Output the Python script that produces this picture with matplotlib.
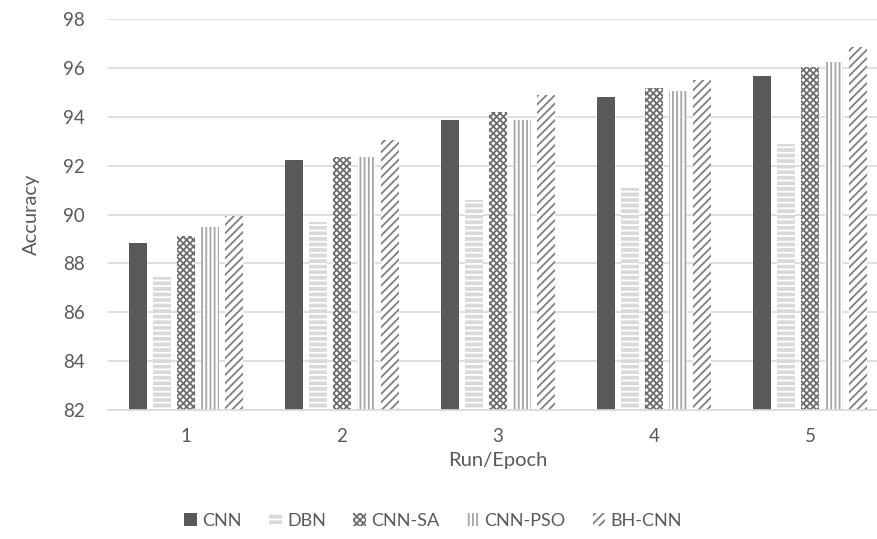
import numpy as np
import matplotlib
matplotlib.use("Agg")
import matplotlib.pyplot as plt

runs = ["1", "2", "3", "4", "5"]
methods = ["CNN", "DBN", "CNN-SA", "CNN-PSO", "BH-CNN"]
cnn = [88.82, 92.22, 93.88, 94.80, 95.65]
dbn = [87.43, 89.68, 90.60, 91.10, 92.90]
cnn_sa = [89.14, 92.35, 94.18, 95.16, 96.02]
cnn_pso = [89.50, 92.35, 93.88, 95.06, 96.26]
bh_cnn = [89.92, 93.05, 94.88, 95.52, 96.86]
values = [cnn, dbn, cnn_sa, cnn_pso, bh_cnn]

# face, hatch colour, hatch
styles = [
    ("#595959", "#595959", None),
    ("#d9d9d9", "white", "---"),
    ("white", "#6e6e6e", "xxxxx"),
    ("white", "#a6a6a6", "||||"),
    ("white", "#808080", "////"),
]

plt.rcParams["font.family"] = ["Lato", "DejaVu Sans"]
plt.rcParams["hatch.linewidth"] = 1.3

fig = plt.figure(figsize=(8.77, 5.39), dpi=100)
ax = fig.add_axes([108 / 877, 129 / 539, 780 / 877, 391 / 539])

x = np.arange(len(runs))
step = 0.154
width = 0.12
for i, (name, vals) in enumerate(zip(methods, values)):
    face, hcol, hatch = styles[i]
    ax.bar(x + (i - 2) * step, np.array(vals) - 82, width, bottom=82,
           color=face, edgecolor=hcol, linewidth=0, hatch=hatch,
           label=name, zorder=2)

ax.set_xlim(-0.5, 4.5)
ax.set_ylim(82, 98)
ax.set_yticks(np.arange(82, 99, 2))
ax.set_xticks(x)
ax.set_xticklabels(runs)
ax.grid(axis="y", color="#d9d9d9", linewidth=1.2, zorder=0)
ax.set_axisbelow(True)
for s in ["top", "right", "left"]:
    ax.spines[s].set_visible(False)
ax.spines["bottom"].set_color("#d9d9d9")
ax.spines["bottom"].set_linewidth(1.2)
ax.tick_params(length=0, labelsize=13.5, colors="#595959")
ax.tick_params(axis="y", pad=17)
ax.tick_params(axis="x", pad=13)
ax.set_ylabel("Accuracy", fontsize=14.5, color="#595959", labelpad=16)
ax.set_xlabel("Run/Epoch", fontsize=14.5, color="#595959", labelpad=5)

fig.legend(loc="center", bbox_to_anchor=(0.494, 0.034), ncol=5, frameon=False,
           fontsize=13, labelcolor="#595959", handlelength=0.7, handleheight=0.7,
           handletextpad=0.3, columnspacing=1.5)

fig.savefig("out.png", dpi=100)
